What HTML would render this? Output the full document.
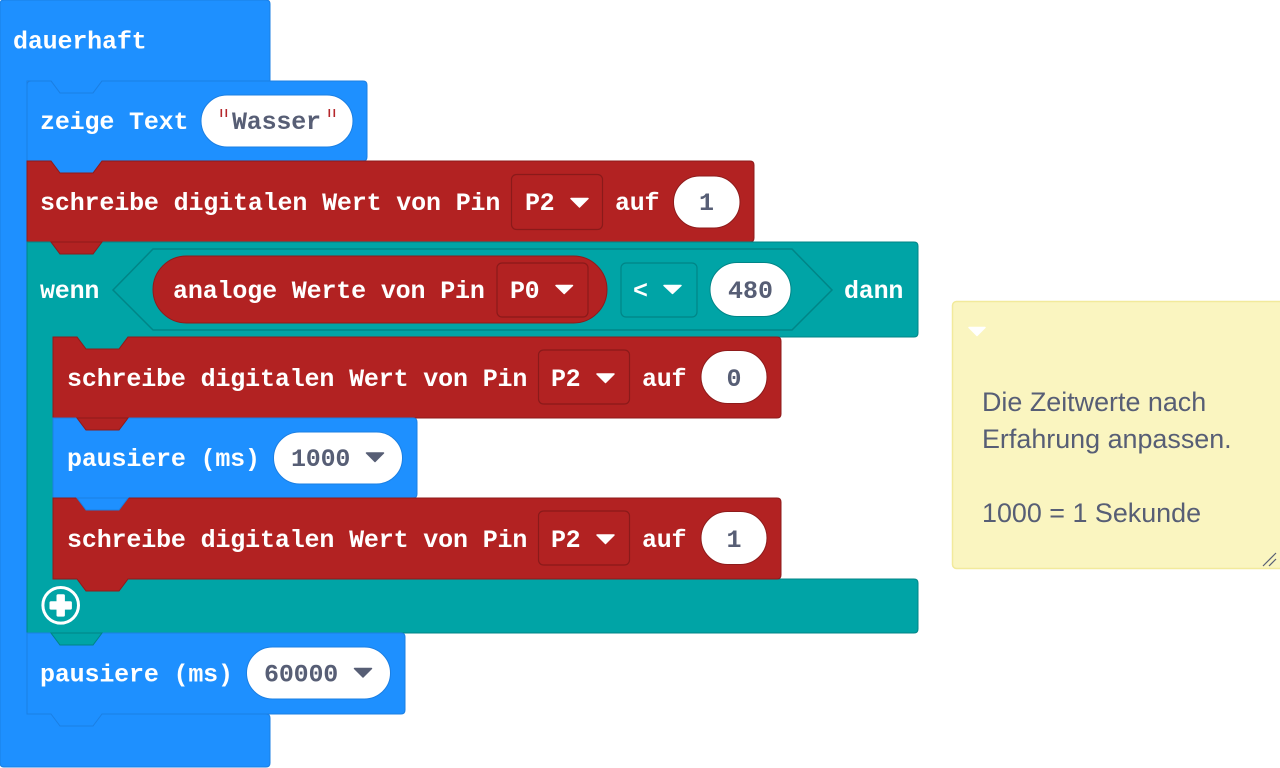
<!DOCTYPE html>
<html>
<head>
<meta charset="utf-8">
<style>
html,body{margin:0;padding:0;background:#fff;}
svg{display:block;}
.t{font-family:"Liberation Mono","DejaVu Sans Mono",monospace;font-weight:bold;font-size:25px;fill:#fff;}
.v{font-family:"Liberation Mono","DejaVu Sans Mono",monospace;font-weight:bold;font-size:25px;fill:#575E75;}
.c{font-family:"Liberation Sans","DejaVu Sans",sans-serif;font-size:26.9px;fill:#575E75;}
</style>
</head>
<body>
<svg width="1280" height="768" viewBox="0 0 1280 768" xmlns="http://www.w3.org/2000/svg">
<!-- dauerhaft -->
<path d="M0,4 Q0,0 4,0 L266,0 Q270,0 270,4 L270,81 L102,81 L93,93 L60,93 L51,81 L27,81 L27,714 L266,714 Q270,714 270,718 L270,763 Q270,767 266,767 L4,767 Q0,767 0,763 Z" fill="#1E90FF" stroke="#1B7FE3" stroke-width="1"/>
<text class="t" x="13" y="48.5" textLength="133.7" lengthAdjust="spacing">dauerhaft</text>

<!-- zeige Text -->
<path d="M27,85 Q27,81 31,81 L51,81 L60,93 L93,93 L102,81 L363,81 Q367,81 367,85 L367,157 Q367,161 363,161 L102,161 L93,173 L60,173 L51,161 L27,161 Z" fill="#1E90FF" stroke="#1B7FE3" stroke-width="1"/>
<text class="t" x="40" y="129" textLength="148.5" lengthAdjust="spacing">zeige Text</text>
<rect x="201" y="95" width="152" height="52" rx="26" fill="#fff" stroke="#1B7FE3" stroke-width="1"/>
<rect x="220.5" y="109" width="1.6" height="8" fill="#B5272B"/>
<rect x="225.5" y="109" width="1.6" height="8" fill="#B5272B"/>
<rect x="328.5" y="109" width="1.6" height="8" fill="#B5272B"/>
<rect x="333.5" y="109" width="1.6" height="8" fill="#B5272B"/>
<text class="v" x="232" y="129" textLength="89" lengthAdjust="spacing">Wasser</text>

<!-- red 1 -->
<path d="M27,161 L51,161 L60,173 L93,173 L102,161 L750,161 Q754,161 754,165 L754,238 Q754,242 750,242 L102,242 L93,254 L60,254 L51,242 L27,242 Z" fill="#B22222" stroke="#8E1B1B" stroke-width="1"/>

<!-- wenn C block -->
<path d="M27,242 L51,242 L60,254 L93,254 L102,242 L914,242 Q918,242 918,246 L918,333 Q918,337 914,337 L128,337 L119,349 L86,349 L77,337 L53,337 L53,579 L914,579 Q918,579 918,583 L918,629 Q918,633 914,633 L102,633 L93,645 L60,645 L51,633 L27,633 Z" fill="#00A4A6" stroke="#008587" stroke-width="1"/>

<!-- red1 tab overlay -->
<path d="M102,242 L93,254 L60,254 L51,242 Z" fill="#B22222" stroke="#8E1B1B" stroke-width="1"/>

<text class="t" x="40" y="210" textLength="460.4" lengthAdjust="spacing">schreibe digitalen Wert von Pin</text>
<rect x="511.5" y="174.5" width="91" height="55" rx="5" fill="#B22222" stroke="#8A1A1A" stroke-width="1.2"/>
<text class="t" x="525" y="210" textLength="29.7" lengthAdjust="spacing">P2</text>
<path d="M571,198.5 L588,198.5 L579.5,207 Z" fill="#fff" stroke="#fff" stroke-width="1.5" stroke-linejoin="round"/>
<text class="t" x="615" y="210" textLength="44.5" lengthAdjust="spacing">auf</text>
<rect x="673.5" y="176" width="66.5" height="52" rx="26" fill="#fff" stroke="#8E1B1B" stroke-width="1"/>
<text class="v" x="706.5" y="210" text-anchor="middle">1</text>

<!-- wenn header contents -->
<text class="t" x="40" y="298" textLength="59.4" lengthAdjust="spacing">wenn</text>
<polygon points="113,290 153,249 792,249 832,290 792,330 153,330" fill="#00A4A6" stroke="#008587" stroke-width="1.5"/>
<rect x="153" y="256" width="454" height="67" rx="33.5" fill="#B22222" stroke="#8E1B1B" stroke-width="1"/>
<text class="t" x="173" y="298" textLength="311.9" lengthAdjust="spacing">analoge Werte von Pin</text>
<rect x="497" y="263" width="91" height="54" rx="5" fill="#B22222" stroke="#8A1A1A" stroke-width="1.2"/>
<text class="t" x="510" y="298" textLength="29.7" lengthAdjust="spacing">P0</text>
<path d="M556,285.5 L572.5,285.5 L564.2,293.5 Z" fill="#fff" stroke="#fff" stroke-width="1.5" stroke-linejoin="round"/>
<rect x="621" y="263" width="76" height="54" rx="5" fill="#00A4A6" stroke="#008587" stroke-width="1.2"/>
<text class="t" x="633" y="298">&lt;</text>
<path d="M664,285.5 L681,285.5 L672.5,293.5 Z" fill="#fff" stroke="#fff" stroke-width="1.5" stroke-linejoin="round"/>
<rect x="710" y="262.5" width="81" height="54" rx="27" fill="#fff" stroke="#008587" stroke-width="1"/>
<text class="v" x="750.5" y="298" text-anchor="middle">480</text>
<text class="t" x="844" y="298" textLength="59.4" lengthAdjust="spacing">dann</text>

<!-- inner red 0 -->
<path d="M53,337 L77,337 L86,349 L119,349 L128,337 L777,337 Q781,337 781,341 L781,414 Q781,418 777,418 L128,418 L119,430 L86,430 L77,418 L53,418 Z" fill="#B22222" stroke="#8E1B1B" stroke-width="1"/>

<!-- pausiere 1000 -->
<path d="M53,418 L77,418 L86,430 L119,430 L128,418 L413,418 Q417,418 417,422 L417,494 Q417,498 413,498 L128,498 L119,510 L86,510 L77,498 L53,498 Z" fill="#1E90FF" stroke="#1B7FE3" stroke-width="1"/>
<path d="M128,418 L119,430 L86,430 L77,418 Z" fill="#B22222" stroke="#8E1B1B" stroke-width="1"/>

<text class="t" x="67" y="386" textLength="460.4" lengthAdjust="spacing">schreibe digitalen Wert von Pin</text>
<rect x="538.5" y="350" width="91" height="54" rx="5" fill="#B22222" stroke="#8A1A1A" stroke-width="1.2"/>
<text class="t" x="551" y="386" textLength="29.7" lengthAdjust="spacing">P2</text>
<path d="M597,374 L614,374 L605.5,382.5 Z" fill="#fff" stroke="#fff" stroke-width="1.5" stroke-linejoin="round"/>
<text class="t" x="642" y="386" textLength="44.5" lengthAdjust="spacing">auf</text>
<rect x="701" y="350.5" width="66" height="53" rx="26.5" fill="#fff" stroke="#8E1B1B" stroke-width="1"/>
<text class="v" x="734" y="386" text-anchor="middle">0</text>

<!-- inner red 1b -->
<path d="M53,498 L77,498 L86,510 L119,510 L128,498 L777,498 Q781,498 781,502 L781,575 Q781,579 777,579 L128,579 L119,591 L86,591 L77,579 L53,579 Z" fill="#B22222" stroke="#8E1B1B" stroke-width="1"/>
<path d="M128,498 L119,510 L86,510 L77,498 Z" fill="#1E90FF" stroke="#1B7FE3" stroke-width="1"/>

<text class="t" x="67" y="466" textLength="193" lengthAdjust="spacing">pausiere (ms)</text>
<rect x="273.5" y="432" width="129" height="52" rx="26" fill="#fff" stroke="#1B7FE3" stroke-width="1"/>
<text class="v" x="291" y="466" textLength="59.4" lengthAdjust="spacing">1000</text>
<path d="M366.5,453 L383.5,453 L375,461.5 Z" fill="#575E75" stroke="#575E75" stroke-width="1.5" stroke-linejoin="round"/>

<text class="t" x="67" y="547" textLength="460.4" lengthAdjust="spacing">schreibe digitalen Wert von Pin</text>
<rect x="538.5" y="511" width="91" height="54" rx="5" fill="#B22222" stroke="#8A1A1A" stroke-width="1.2"/>
<text class="t" x="551" y="547" textLength="29.7" lengthAdjust="spacing">P2</text>
<path d="M597,535 L614,535 L605.5,543.5 Z" fill="#fff" stroke="#fff" stroke-width="1.5" stroke-linejoin="round"/>
<text class="t" x="642" y="547" textLength="44.5" lengthAdjust="spacing">auf</text>
<rect x="701" y="511.5" width="66" height="53" rx="26.5" fill="#fff" stroke="#8E1B1B" stroke-width="1"/>
<text class="v" x="734" y="547" text-anchor="middle">1</text>

<!-- plus icon -->
<circle cx="60.7" cy="605.3" r="17.8" fill="none" stroke="#fff" stroke-width="3"/>
<rect x="49.5" y="601.2" width="22.4" height="8.4" rx="1.5" fill="#fff"/>
<rect x="56.5" y="594.2" width="8.4" height="22.4" rx="1.5" fill="#fff"/>

<!-- pausiere 60000 -->
<path d="M27,633 L51,633 L60,645 L93,645 L102,633 L401,633 Q405,633 405,637 L405,710 Q405,714 401,714 L102,714 L93,726 L60,726 L51,714 L27,714 Z" fill="#1E90FF" stroke="#1B7FE3" stroke-width="1"/>
<path d="M102,633 L93,645 L60,645 L51,633 Z" fill="#00A4A6" stroke="#008587" stroke-width="1"/>
<text class="t" x="40" y="681.5" textLength="193" lengthAdjust="spacing">pausiere (ms)</text>
<rect x="246.5" y="647" width="144" height="52" rx="26" fill="#fff" stroke="#1B7FE3" stroke-width="1"/>
<text class="v" x="264" y="681.5" textLength="74.3" lengthAdjust="spacing">60000</text>
<path d="M354.5,668.5 L371.5,668.5 L363,677 Z" fill="#575E75" stroke="#575E75" stroke-width="1.5" stroke-linejoin="round"/>

<!-- comment -->
<rect x="952.5" y="301.5" width="332" height="267" rx="4" fill="#FAF5C0" stroke="#F2EA9C" stroke-width="1.5"/>
<path d="M969,327.5 L985,327.5 L977,335.5 Z" fill="#fff" stroke="#fff" stroke-width="1.5" stroke-linejoin="round"/>
<text class="c" x="982" y="411">Die Zeitwerte nach</text>
<text class="c" x="982" y="448">Erfahrung anpassen.</text>
<text class="c" x="982" y="522">1000 = 1 Sekunde</text>
<line x1="1263" y1="566" x2="1276" y2="553" stroke="#575E75" stroke-width="1.2"/>
<line x1="1269" y1="566" x2="1276" y2="559" stroke="#575E75" stroke-width="1.2"/>
</svg>
</body>
</html>
